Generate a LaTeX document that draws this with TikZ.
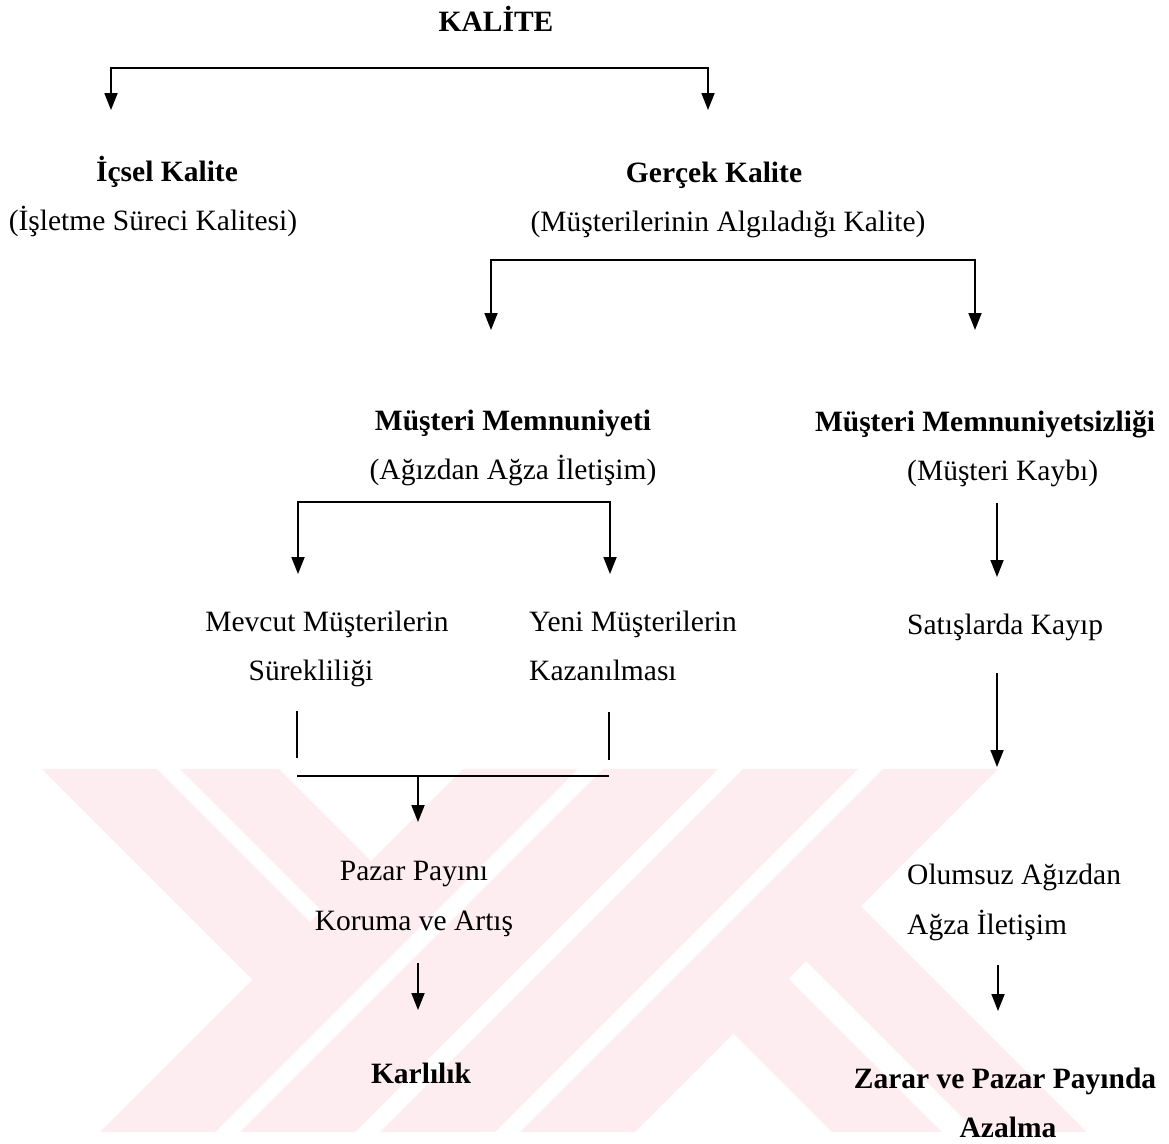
\documentclass[tikz,border=0pt]{standalone}
\usepackage{fontspec}
\setmainfont{Liberation Serif}
\usetikzlibrary{arrows.meta}
\definecolor{wm}{RGB}{253,237,240}
\begin{document}
\begin{tikzpicture}[x=1pt,y=-1pt,
  ln/.style={line width=1.8pt},
  arr/.style={ln,-{Triangle[width=13pt,length=17pt]}},
  darr/.style={ln,{Triangle[width=13pt,length=17pt]}-{Triangle[width=13pt,length=17pt]}},
  lbl/.style={font=\fontsize{29.5}{36}\selectfont, inner sep=0pt, anchor=base},
  lblw/.style={lbl, anchor=base west},
  lblb/.style={lbl, font=\fontsize{29.5}{36}\selectfont\bfseries}]
\useasboundingbox (0,0) rectangle (1169,1143);
% watermark
\begin{scope}
\clip (0,769) rectangle (1169,1132);
\fill[wm] (463,769) -- (578,769) -- (215,1132) -- (100,1132) -- cycle;
\fill[wm] (603,769) -- (718,769) -- (355,1132) -- (240,1132) -- cycle;
\fill[wm] (743,769) -- (858,769) -- (495,1132) -- (380,1132) -- cycle;
\fill[wm] (883,769) -- (998,769) -- (635,1132) -- (520,1132) -- cycle;
\fill[wm] (42,769) -- (157,769) -- (339,951) -- (281.5,1008.5) -- cycle;
\fill[wm] (180,769) -- (279,769) -- (400,890) -- (350.5,939.5) -- cycle;
\fill[wm] (705,1005) -- (760,950) -- (942,1132) -- (832,1132) -- cycle;
\fill[wm] (777.5,932.5) -- (832.5,877.5) -- (1087,1132) -- (977,1132) -- cycle;
\end{scope}
% texts
\node[lblb] (kalite) at (496,31) {KALİTE};
\node[lblb] (icsel) at (167,181) {İçsel Kalite};
\node[lbl] (icselsub) at (153,230) {(İşletme Süreci Kalitesi)};
\node[lblb] (gercek) at (714,182) {Gerçek Kalite};
\node[lbl] (gerceksub) at (728,231) {(Müşterilerinin Algıladığı Kalite)};
\node[lblb] (mm) at (513,430) {Müşteri Memnuniyeti};
\node[lbl] (mmsub) at (513,479) {(Ağızdan Ağza İletişim)};
\node[lblb] (mms) at (985,431) {Müşteri Memnuniyetsizliği};
\node[lblw] (mmssub) at (907,480) {(Müşteri Kaybı)};
\node[lbl] (mevcut) at (327,631) {Mevcut Müşterilerin};
\node[lbl] (surek) at (311,680) {Sürekliliği};
\node[lblw] (yeni) at (529,631) {Yeni Müşterilerin};
\node[lblw] (kazan) at (529,680) {Kazanılması};
\node[lblw] (satis) at (907,634) {Satışlarda Kayıp};
\node[lbl] (pazar) at (414,880) {Pazar Payını};
\node[lbl] (koruma) at (414,930) {Koruma ve Artış};
\node[lblw] (olumsuz) at (907,884) {Olumsuz Ağızdan};
\node[lblw] (agza) at (907,934) {Ağza İletişim};
\node[lblb] (karlilik) at (421,1083) {Karlılık};
\node[lblb] (zarar) at (1005,1088) {Zarar ve Pazar Payında};
\node[lblb] (azalma) at (1008,1137) {Azalma};
% coordinates
\coordinate (t1) at (111,68);   \coordinate (t2) at (708,68);
\coordinate (t1e) at (111,110); \coordinate (t2e) at (708,110);
\coordinate (s1) at (491,260);  \coordinate (s2) at (975,260);
\coordinate (s1e) at (491,330); \coordinate (s2e) at (975,330);
\coordinate (u1) at (298,502);  \coordinate (u2) at (610,502);
\coordinate (u1e) at (298,574); \coordinate (u2e) at (610,574);
\coordinate (v1a) at (297,711); \coordinate (v1b) at (297,758);
\coordinate (v2a) at (609,712); \coordinate (v2b) at (609,760);
\coordinate (h1) at (297,776);  \coordinate (h2) at (609,776);
\coordinate (hm) at (418,776);  \coordinate (hme) at (418,822);
\coordinate (p1) at (418,963);  \coordinate (p1e) at (418,1010);
\coordinate (r1) at (997,503);  \coordinate (r1e) at (997,577);
\coordinate (r2) at (997,673);  \coordinate (r2e) at (997,767);
\coordinate (r3) at (998,965);  \coordinate (r3e) at (998,1011);
% connectors
\draw[darr] (t1e) -- (t1) -- (t2) -- (t2e);
\draw[darr] (s1e) -- (s1) -- (s2) -- (s2e);
\draw[darr] (u1e) -- (u1) -- (u2) -- (u2e);
\draw[ln] (v1a) -- (v1b);
\draw[ln] (v2a) -- (v2b);
\draw[ln] (h1) -- (h2);
\draw[arr] (hm) -- (hme);
\draw[arr] (p1) -- (p1e);
\draw[arr] (r1) -- (r1e);
\draw[arr] (r2) -- (r2e);
\draw[arr] (r3) -- (r3e);
\end{tikzpicture}
\end{document}
